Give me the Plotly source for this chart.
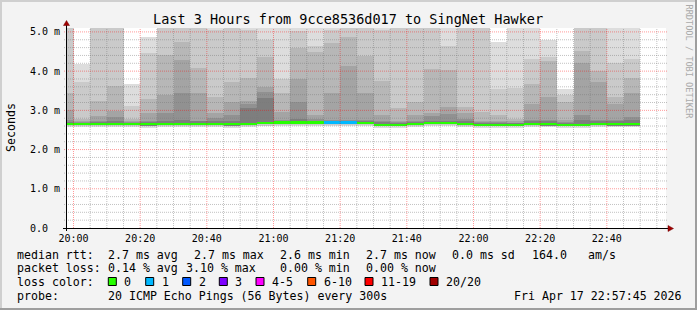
import plotly.graph_objects as go
import pandas as pd

# ---------------- data ----------------
# 5-minute intervals (start times), 19:55 .. 22:45
interval_start = pd.date_range("2026-04-17 19:55", periods=35, freq="5min")

# median rtt (ms) per interval
median_ms = [2.65, 2.65, 2.66, 2.66, 2.65, 2.64, 2.66, 2.66, 2.66, 2.66,
             2.64, 2.66, 2.67, 2.69, 2.69, 2.69, 2.69, 2.69, 2.68, 2.63,
             2.63, 2.66, 2.68, 2.68, 2.65, 2.63, 2.63, 2.63, 2.66, 2.65,
             2.63, 2.63, 2.66, 2.64, 2.64]
# lost pings (of 20) per interval
loss_count = [0, 0, 0, 0, 0, 0, 0, 0, 0, 0,
              0, 0, 0, 0, 0, 0, 1, 1, 0, 0,
              0, 0, 0, 0, 0, 0, 0, 0, 0, 0,
              0, 0, 0, 0, 0]
# sorted ping times (ms): upper pings 20 (max) .. 15
p20 = [5.8, 4.19, 5.9, 5.7, 3.66, 4.86, 5.9, 6.0, 5.8, 5.6,
       5.7, 5.6, 5.7, 5.8, 5.7, 5.5, 5.6, 5.8, 5.7, 5.6,
       5.7, 5.6, 5.7, 5.6, 5.6, 5.5, 4.75, 5.4, 5.5, 4.79,
       3.55, 5.7, 5.6, 5.5, 5.4]
p19 = [5.3, 3.72, 5.4, 5.3, 3.12, 4.46, 5.4, 5.5, 5.3, 5.06,
       5.3, 5.05, 4.79, 3.81, 5.02, 4.63, 5.05, 5.3, 5.3, 5.05,
       5.2, 5.2, 5.25, 4.63, 5.2, 5.2, 3.55, 3.56, 4.31, 4.35,
       3.40, 5.3, 5.2, 4.20, 4.30]
p18 = [3.45, 2.77, 3.25, 3.62, 2.79, 3.28, 4.40, 4.74, 4.07, 3.35,
       3.73, 3.83, 4.37, 3.44, 4.58, 4.50, 4.73, 4.88, 4.38, 3.75,
       3.07, 3.22, 4.06, 4.03, 3.08, 2.95, 2.89, 2.78, 3.68, 4.26,
       3.22, 4.52, 4.01, 3.35, 3.83]
p17 = [3.01, 2.72, 2.86, 2.99, 2.73, 2.94, 3.40, 4.29, 3.43, 2.94,
       3.22, 3.23, 3.59, 2.97, 3.79, 2.88, 3.45, 4.14, 3.43, 2.88,
       2.74, 2.89, 2.92, 3.08, 2.92, 2.73, 2.74, 2.72, 3.17, 3.35,
       2.76, 4.21, 3.73, 3.15, 3.45]
p16 = [2.75, 2.70, 2.73, 2.84, 2.70, 2.72, 2.92, 3.45, 2.74, 2.80,
       2.87, 3.17, 3.48, 2.76, 3.22, 2.78, 2.76, 2.76, 2.75, 2.74,
       2.71, 2.74, 2.85, 2.90, 2.78, 2.70, 2.70, 2.69, 2.76, 2.76,
       2.71, 2.87, 2.76, 2.76, 2.84]
p15 = [2.71, 2.69, 2.70, 2.73, 2.69, 2.70, 2.74, 2.76, 2.72, 2.73,
       2.74, 3.05, 3.31, 2.73, 2.77, 2.74, 2.73, 2.73, 2.72, 2.71,
       2.69, 2.71, 2.74, 2.74, 2.72, 2.68, 2.68, 2.68, 2.72, 2.72,
       2.69, 2.75, 2.72, 2.72, 2.75]
# lower pings: 1 (min), 2, 3
p01 = [2.58, 2.57, 2.58, 2.58, 2.57, 2.56, 2.58, 2.58, 2.58, 2.58,
       2.56, 2.58, 2.59, 2.60, 2.60, 2.60, 2.60, 2.60, 2.59, 2.56,
       2.56, 2.58, 2.59, 2.59, 2.57, 2.56, 2.56, 2.56, 2.58, 2.57,
       2.56, 2.56, 2.58, 2.57, 2.57]
p02 = [2.60, 2.60, 2.60, 2.60, 2.59, 2.59, 2.60, 2.60, 2.60, 2.60,
       2.59, 2.60, 2.61, 2.63, 2.63, 2.63, 2.63, 2.63, 2.62, 2.59,
       2.59, 2.60, 2.62, 2.62, 2.60, 2.59, 2.59, 2.59, 2.60, 2.60,
       2.59, 2.59, 2.60, 2.60, 2.60]
p03 = [2.62, 2.62, 2.63, 2.63, 2.62, 2.61, 2.63, 2.63, 2.63, 2.63,
       2.61, 2.63, 2.64, 2.66, 2.66, 2.66, 2.66, 2.66, 2.65, 2.60,
       2.60, 2.63, 2.65, 2.65, 2.62, 2.60, 2.60, 2.60, 2.63, 2.61,
       2.60, 2.60, 2.63, 2.61, 2.61]

y_tickvals = [0, 1, 2, 3, 4, 5]
y_ticktext = ["0.0\u00a0\u00a0", "1.0 m", "2.0 m", "3.0 m", "4.0 m", "5.0 m"]

title_text = "Last 3 Hours from 9cce8536d017 to SingNet Hawker"
line_rtt = [("median rtt:", 16), ("2.7 ms avg", 107), ("2.7 ms max", 192.7),
            ("2.6 ms min", 279.3), ("2.7 ms now", 365), ("0.0 ms sd", 451),
            ("164.0", 530.7), ("am/s", 586.5)]
line_loss = [("packet loss:", 16), ("0.14 % avg", 107), ("3.10 % max", 185),
             ("0.00 % min", 279.3), ("0.00 % now", 365)]
loss_labels = ["0", "1", "2", "3", "4-5", "6-10", "11-19", "20/20"]
loss_label_colors = ["#26ff00", "#00b8ff", "#0059ff", "#7e00ff", "#ff00ff",
                     "#ff5500", "#ff0000", "#a10000"]
loss_thresholds = [0, 1, 2, 3, 4, 6, 11, 20]
loss_box_x = [108.3, 145.7, 182.7, 219.3, 256, 307.7, 365, 430]
line_probe = [("probe:", 16), ("20 ICMP Echo Pings (56 Bytes) every 300s", 107),
              ("Fri Apr 17 22:57:45 2026", 513.3)]

# ---------------- geometry helpers (pixel -> paper) ----------------
L, R, T, B = 66, 666, 28, 228
def PX(x):
    return (x - L) / (R - L)
def PY(y):
    return (B - y) / (B - T)

MONO = "DejaVu Sans Mono"
centers = interval_start + pd.Timedelta(minutes=2.5)
step_ms = 300000

fig = go.Figure()

grays = ["#dddddd", "#cacaca", "#b7b7b7", "#a4a4a4", "#919191", "#7e7e7e"]
bands = [(p01, p20), (p02, p19), (p03, p18), (p03, p17), (p03, p16), (p03, p15)]
for (lo, hi), col in zip(bands, grays):
    fig.add_trace(go.Bar(
        x=centers, base=lo, y=[h - l for l, h in zip(lo, hi)], width=step_ms,
        marker=dict(color=col, line=dict(width=0)), hoverinfo="skip"))

def loss_color(n):
    c = loss_label_colors[0]
    for t, col in zip(loss_thresholds, loss_label_colors):
        if n >= t:
            c = col
    return c

half = 0.026
fig.add_trace(go.Bar(
    x=centers, base=[m - half for m in median_ms], y=[2 * half] * len(median_ms),
    width=step_ms, marker=dict(color=[loss_color(n) for n in loss_count], line=dict(width=0)),
    hoverinfo="skip"))

shapes = []
# grid (drawn above the smoke, like rrdtool)
t0 = pd.Timestamp("2026-04-17 20:00")
for k in range(36):
    t = t0 + pd.Timedelta(minutes=5 * k)
    major = (k % 4 == 0)
    shapes.append(dict(type="line", xref="x", yref="paper", x0=t, x1=t, y0=0, y1=1,
                       layer="above",
                       line=dict(color="rgba(255,0,0,0.4)" if major else "rgba(120,120,120,0.45)",
                                 width=1, dash="1px,1px")))
for k in range(1, 26):
    v = k * 0.2
    major = (k % 5 == 0)
    shapes.append(dict(type="line", xref="paper", yref="y", x0=PX(64), x1=PX(668), y0=v, y1=v,
                       layer="above",
                       line=dict(color="rgba(255,0,0,0.4)" if major else "rgba(120,120,120,0.45)",
                                 width=1, dash="1px,1px")))
# axes
shapes.append(dict(type="line", xref="paper", yref="paper", x0=PX(66.5), x1=PX(66.5),
                   y0=PY(231), y1=PY(24), layer="above", line=dict(color="#000", width=1)))
shapes.append(dict(type="line", xref="paper", yref="paper", x0=PX(63), x1=PX(670),
                   y0=PY(228.5), y1=PY(228.5), layer="above", line=dict(color="#000", width=1)))
# arrows
shapes.append(dict(type="path", xref="paper", yref="paper", layer="above",
                   path=f"M {PX(63.5)} {PY(25.5)} L {PX(69.5)} {PY(25.5)} L {PX(66.5)} {PY(20.5)} Z",
                   fillcolor="#a00000", line=dict(color="#700000", width=0.5)))
shapes.append(dict(type="path", xref="paper", yref="paper", layer="above",
                   path=f"M {PX(668)} {PY(225.5)} L {PX(668)} {PY(231.5)} L {PX(673.5)} {PY(228.5)} Z",
                   fillcolor="#a00000", line=dict(color="#700000", width=0.5)))
# frame
shapes.append(dict(type="line", xref="paper", yref="paper", x0=PX(0), x1=PX(697),
                   y0=PY(1), y1=PY(1), line=dict(color="#cfcfcf", width=2)))
shapes.append(dict(type="line", xref="paper", yref="paper", x0=PX(1), x1=PX(1),
                   y0=PY(0), y1=PY(310), line=dict(color="#cfcfcf", width=2)))
shapes.append(dict(type="line", xref="paper", yref="paper", x0=PX(0), x1=PX(697),
                   y0=PY(309), y1=PY(309), line=dict(color="#9e9e9e", width=2)))
shapes.append(dict(type="line", xref="paper", yref="paper", x0=PX(696), x1=PX(696),
                   y0=PY(0), y1=PY(310), line=dict(color="#9e9e9e", width=2)))
# loss colour boxes
for bx, col in zip(loss_box_x, loss_label_colors):
    shapes.append(dict(type="rect", xref="paper", yref="paper",
                       x0=PX(bx), x1=PX(bx + 8), y0=PY(277.5), y1=PY(285.5),
                       fillcolor=col, line=dict(color="#000", width=1)))

annotations = []
def txt(s, x, y, size=11.6, anchor="left", **kw):
    annotations.append(dict(text=s, xref="paper", yref="paper", x=PX(x), y=PY(y),
                            xanchor=anchor, yanchor="middle", showarrow=False,
                            font=dict(family=MONO, size=size, color=kw.pop("color", "#000")),
                            borderpad=0, **kw))

txt(title_text, 348, 19, size=13.5, anchor="center")
txt("Seconds", 10.5, 127.5, anchor="center", textangle=-90)
txt("RRDTOOL / TOBI OETIKER", 688.5, 62, size=8.6, anchor="center", textangle=90, color="#aaaaaa")
for s, x in line_rtt:
    txt(s, x, 254.5)
for s, x in line_loss:
    txt(s, x, 268)
txt("loss color:", 16, 281.5)
for lab, bx in zip(loss_labels, loss_box_x):
    txt(lab, bx + 15, 281.5)
for s, x in line_probe:
    txt(s, x, 295.5)

fig.update_layout(
    width=697, height=310, margin=dict(l=L, r=697 - R, t=T, b=310 - B, pad=0),
    paper_bgcolor="#f3f3f3", plot_bgcolor="#ffffff",
    barmode="overlay", bargap=0, showlegend=False,
    shapes=shapes, annotations=annotations,
    xaxis=dict(type="date", range=["2026-04-17 19:57:45", "2026-04-17 22:57:45"],
               showgrid=False, zeroline=False, showline=False,
               tick0="2026-04-17 20:00", dtick=1200000, tickformat="%H:%M",
               ticks="outside", ticklen=1, tickcolor="rgba(0,0,0,0)",
               tickfont=dict(family=MONO, size=10, color="#000")),
    yaxis=dict(range=[0, 5.1], showgrid=False, zeroline=False, showline=False,
               tickmode="array", tickvals=y_tickvals, ticktext=y_ticktext,
               ticks="outside", ticklen=3, tickcolor="rgba(0,0,0,0)",
               tickfont=dict(family=MONO, size=10, color="#000")),
)

fig.write_html("out.html")
